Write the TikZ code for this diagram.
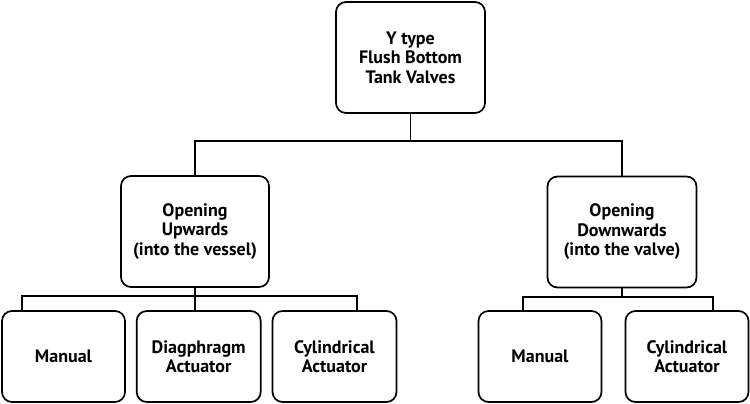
\documentclass[tikz,border=0pt]{standalone}
\usepackage{fontspec}
\setmainfont{PT Sans}
\usetikzlibrary{calc}
\begin{document}
\begin{tikzpicture}[x=1pt,y=-1pt,
  box/.style={draw, line width=1.7pt, rounded corners=10pt, align=center,
    font=\fontsize{18}{19.5}\selectfont\bfseries, inner sep=0pt},
  conn/.style={line width=1.8pt}]
\useasboundingbox (0,0) rectangle (750,404);
\node[box, minimum width=149pt, minimum height=111pt] (top) at (410.5,57.5) {Y type\\Flush Bottom\\Tank Valves};
\node[box, minimum width=148pt, minimum height=111pt] (lm) at (195,231.5) {Opening\\Upwards\\(into the vessel)};
\node[box, minimum width=149pt, minimum height=111pt] (rm) at (622,232) {Opening\\Downwards\\(into the valve)};
\node[box, minimum width=123pt, minimum height=91pt] (m1) at (63.5,356.5) {Manual};
\node[box, minimum width=124pt, minimum height=91pt] (m2) at (198.7,356.5) {Diagphragm\\Actuator};
\node[box, minimum width=124pt, minimum height=91pt] (m3) at (334.5,356.5) {Cylindrical\\Actuator};
\node[box, minimum width=123pt, minimum height=91pt] (r1) at (540,356.5) {Manual};
\node[box, minimum width=123pt, minimum height=91pt] (r2) at (687,356.5) {Cylindrical\\Actuator};
% top level connectors
\draw[conn] (top.south) -- ++(0,27.3) coordinate (j1);
\draw[conn] (lm.north) |- (j1) -| (rm.north);
% left group
\draw[conn] (lm.south) -- ++(0,8.3) coordinate (j2);
\coordinate (d1) at ($(m1.north west)+(21,0)$);
\coordinate (d3) at ($(m3.north east)+(-40.5,0)$);
\draw[conn] (d1) |- (j2) -| (d3);
\draw[conn] (j2) -- (j2 |- m2.north);
% right group
\draw[conn] (rm.south) -- ++(0,8.3) coordinate (j3);
\coordinate (e1) at ($(r1.north west)+(45,0)$);
\coordinate (e2) at ($(r2.north east)+(-36,0)$);
\draw[conn] (e1) |- (j3) -| (e2);
\end{tikzpicture}
\end{document}
